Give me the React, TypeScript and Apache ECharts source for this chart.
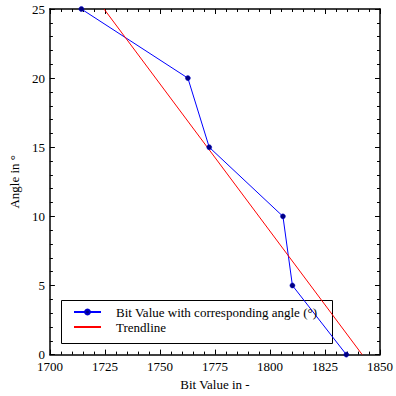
import React, { useEffect, useRef } from "react";
import * as echarts from "echarts";

const bitValues = [1714.3, 1762.7, 1772.4, 1805.9, 1810.2, 1834.7];
const angles = [25, 20, 15, 10, 5, 0];
const trendBits = [1724.6, 1841.9];
const trendAngles = [25, 0];
const seriesNames = ["Bit Value with corresponding angle (°)", "Trendline"];

const FONT = "'Liberation Serif', 'Times New Roman', serif";

export default function App() {
  const ref = useRef<HTMLDivElement>(null);
  useEffect(() => {
    if (!ref.current) return;
    const chart = echarts.init(ref.current, undefined, { renderer: "svg" });
    const tickStyle = { show: true, inside: true, length: 5, lineStyle: { color: "#000", width: 1 } };
    const minorStyle = { show: true, splitNumber: 5, length: 3, lineStyle: { color: "#000", width: 1 } };
    const axisLine = { show: true, onZero: false, lineStyle: { color: "#000", width: 1.5 } };
    const label = { fontFamily: FONT, fontSize: 13, color: "#000", formatter: (v: number) => String(v) };
    chart.setOption({
      animation: false,
      backgroundColor: "#fff",
      grid: { left: 45, right: 5, top: 9, bottom: 41, containLabel: false },
      xAxis: [
        {
          type: "value", min: 1700, max: 1850, interval: 25, position: "bottom",
          name: "Bit Value in -", nameLocation: "middle", nameGap: 21,
          nameTextStyle: { fontFamily: FONT, fontSize: 13, color: "#000" },
          axisLine, axisTick: tickStyle, minorTick: minorStyle,
          axisLabel: { ...label, margin: 6, lineHeight: 12 }, splitLine: { show: false },
        },
        {
          type: "value", min: 1700, max: 1850, interval: 25, position: "top",
          axisLine, axisTick: tickStyle, minorTick: minorStyle,
          axisLabel: { show: false }, splitLine: { show: false },
        },
      ],
      yAxis: [
        {
          type: "value", min: 0, max: 25, interval: 5, position: "left",
          name: "Angle in °", nameLocation: "middle", nameGap: 26,
          nameTextStyle: { fontFamily: FONT, fontSize: 13, color: "#000" },
          axisLine, axisTick: tickStyle, minorTick: minorStyle,
          axisLabel: { ...label, margin: 5, lineHeight: 10 }, splitLine: { show: false },
        },
        {
          type: "value", min: 0, max: 25, interval: 5, position: "right",
          axisLine, axisTick: tickStyle, minorTick: minorStyle,
          axisLabel: { show: false }, splitLine: { show: false },
        },
      ],
      legend: {
        orient: "vertical", left: 73, top: 305, itemWidth: 27, itemHeight: 6, itemGap: 1,
        padding: 0,
        textStyle: { fontFamily: FONT, fontSize: 13, lineHeight: 14, color: "#000", padding: [0, 0, 0, 10] },
        data: [
          { name: seriesNames[0] },
          { name: seriesNames[1], itemStyle: { opacity: 0 } },
        ],
      },
      graphic: [
        {
          type: "rect", left: 59, top: 298, shape: { width: 271, height: 43 },
          style: { fill: "none", stroke: "#000", lineWidth: 1 }, silent: true,
        },
      ],
      series: [
        {
          name: seriesNames[0], type: "line", xAxisIndex: 0, yAxisIndex: 0,
          data: bitValues.map((b, i) => [b, angles[i]]),
          symbol: "circle", symbolSize: 5,
          lineStyle: { color: "#0000ff", width: 1 },
          itemStyle: { color: "#000080", borderColor: "#0000cc", borderWidth: 0.5 },
          clip: false,
        },
        {
          name: seriesNames[1], type: "line", xAxisIndex: 0, yAxisIndex: 0,
          data: trendBits.map((b, i) => [b, trendAngles[i]]),
          symbol: "none",
          lineStyle: { color: "#ff0000", width: 1 },
          itemStyle: { color: "#ff0000" },
        },
      ],
    });
    return () => chart.dispose();
  }, []);
  return <div ref={ref} style={{ width: 396, height: 396, position: "absolute", left: 0, top: 0 }} />;
}
